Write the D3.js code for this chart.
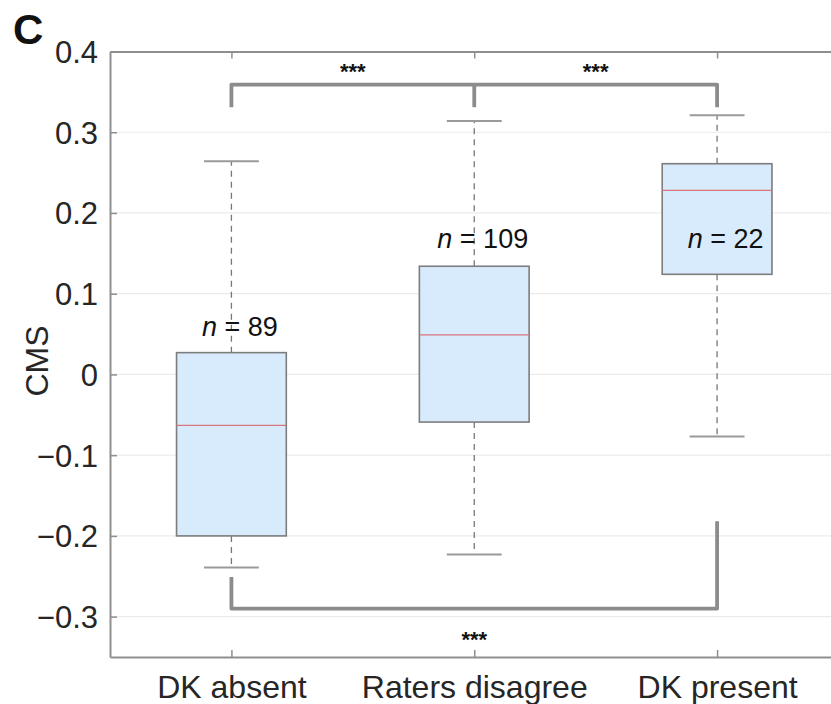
<!DOCTYPE html>
<html>
<head>
<meta charset="utf-8">
<script src="https://cdn.jsdelivr.net/npm/d3@7"></script>
<style>
  body { margin: 0; background: #fff; }
  svg { display: block; font-family: "Liberation Sans", Arial, Helvetica, sans-serif; }
</style>
</head>
<body>
<svg id="chart" width="831" height="704"></svg>
<script>
// data
var categories = ['DK absent', 'Raters disagree', 'DK present'];
var whiskerLow = [-0.239, -0.223, -0.077];
var q1 = [-0.200, -0.059, 0.124];
var medians = [-0.063, 0.049, 0.228];
var q3 = [0.027, 0.134, 0.261];
var whiskerHigh = [0.264, 0.314, 0.321];
var counts = [89, 109, 22];
var countLabelY = [0.047, 0.157, 0.157];
var yTicks = [-0.3, -0.2, -0.1, 0, 0.1, 0.2, 0.3, 0.4];

// significance brackets
var topLegs = [1, 2, 3];
var topBarY = 0.359;
var topLegEnd = 0.331;
var bottomLegs = [1, 3];
var bottomBarY = -0.290;
var bottomLegEnd = [-0.251, -0.182];
var starX = [1.5, 2.5, 2];
var starY = [0.380, 0.380, -0.324];

var svg = d3.select('#chart');
// note: "top" is taken by window.top, so use plot* names
var plotLeft = 110, plotRight = 838.5, plotTop = 51.5, plotBottom = 657;

var x = d3.scaleLinear().domain([0.5, 3.5]).range([plotLeft, plotRight]);
var y = d3.scaleLinear().domain([-0.35, 0.4]).range([plotBottom, plotTop]);

var boxHalf = 0.226, capHalf = 0.113;
var axisColor = '#8f8f8f';
var textColor = '#262626';

// grid
svg.append('g').selectAll('line')
    .data(yTicks)
    .enter()
    .append('line')
    .attr('x1', plotLeft).attr('x2', plotRight)
    .attr('y1', function (d) { return y(d); })
    .attr('y2', function (d) { return y(d); })
    .attr('stroke', '#ebebeb')
    .attr('stroke-width', 1.2);

// axes
var fmt = function (d) { return d === 0 ? '0' : d3.format('.1f')(d); };

var yAxis = svg.append('g')
    .attr('transform', 'translate(' + plotLeft + ',0)')
    .call(d3.axisLeft(y).tickValues(yTicks).tickSize(-7).tickSizeOuter(0).tickPadding(12).tickFormat(fmt));

var xAxis = svg.append('g')
    .attr('transform', 'translate(0,' + plotBottom + ')')
    .call(d3.axisBottom(x).tickValues([1, 2, 3]).tickSize(-7).tickSizeOuter(0).tickPadding(18)
        .tickFormat(function (d) { return categories[d - 1]; }));

var topAxis = svg.append('g')
    .attr('transform', 'translate(0,' + plotTop + ')')
    .call(d3.axisTop(x).tickValues([1, 2, 3]).tickSize(-7).tickSizeOuter(0).tickFormat(''));

[yAxis, xAxis, topAxis].forEach(function (g) {
    g.select('.domain').attr('stroke', axisColor).attr('stroke-width', 2);
    g.selectAll('.tick line').attr('stroke', axisColor).attr('stroke-width', 1.5);
    g.selectAll('.tick text').attr('fill', textColor).attr('font-size', 31)
        .attr('font-family', '"Liberation Sans", Arial, sans-serif');
});
yAxis.selectAll('.tick text').attr('dy', '0.35em');
xAxis.selectAll('.tick text').attr('dy', '0.71em').attr('font-size', 32);

// y label
svg.append('text')
    .attr('transform', 'translate(48,361) rotate(-90)')
    .attr('text-anchor', 'middle')
    .attr('font-size', 32)
    .attr('fill', textColor)
    .text('CMS');

// panel letter
svg.append('text')
    .attr('x', 13).attr('y', 44)
    .attr('font-size', 42)
    .attr('font-weight', 'bold')
    .attr('fill', '#111')
    .text('C');

// boxes
var boxes = svg.append('g').selectAll('g')
    .data(categories)
    .enter()
    .append('g');

boxes.append('line')
    .attr('x1', function (d, i) { return x(i + 1); })
    .attr('x2', function (d, i) { return x(i + 1); })
    .attr('y1', function (d, i) { return y(q3[i]); })
    .attr('y2', function (d, i) { return y(whiskerHigh[i]); })
    .attr('stroke', '#777').attr('stroke-width', 1.3).attr('stroke-dasharray', '6,5');

boxes.append('line')
    .attr('x1', function (d, i) { return x(i + 1); })
    .attr('x2', function (d, i) { return x(i + 1); })
    .attr('y1', function (d, i) { return y(q1[i]); })
    .attr('y2', function (d, i) { return y(whiskerLow[i]); })
    .attr('stroke', '#777').attr('stroke-width', 1.3).attr('stroke-dasharray', '6,5');

[whiskerHigh, whiskerLow].forEach(function (arr) {
    boxes.append('line')
        .attr('x1', function (d, i) { return x(i + 1 - capHalf); })
        .attr('x2', function (d, i) { return x(i + 1 + capHalf); })
        .attr('y1', function (d, i) { return y(arr[i]); })
        .attr('y2', function (d, i) { return y(arr[i]); })
        .attr('stroke', '#9a9a9a').attr('stroke-width', 2);
});

boxes.append('rect')
    .attr('x', function (d, i) { return x(i + 1 - boxHalf); })
    .attr('width', function (d, i) { return x(i + 1 + boxHalf) - x(i + 1 - boxHalf); })
    .attr('y', function (d, i) { return y(q3[i]); })
    .attr('height', function (d, i) { return y(q1[i]) - y(q3[i]); })
    .attr('fill', '#d8ebfc')
    .attr('stroke', '#7d7d7d')
    .attr('stroke-width', 1.6);

boxes.append('line')
    .attr('x1', function (d, i) { return x(i + 1 - boxHalf); })
    .attr('x2', function (d, i) { return x(i + 1 + boxHalf); })
    .attr('y1', function (d, i) { return y(medians[i]); })
    .attr('y2', function (d, i) { return y(medians[i]); })
    .attr('stroke', '#d9737f').attr('stroke-width', 1.3);

// count labels, on top of the boxes
var labels = svg.append('g').selectAll('text')
    .data(counts)
    .enter()
    .append('text')
    .attr('x', function (d, i) { return x(i + 1.035); })
    .attr('y', function (d, i) { return y(countLabelY[i]); })
    .attr('text-anchor', 'middle')
    .attr('font-size', 27)
    .attr('fill', '#111');
labels.append('tspan').attr('font-style', 'italic').text('n');
labels.append('tspan').text(function (d) { return ' = ' + d; });

// brackets
var line = d3.line().x(function (d) { return x(d[0]); }).y(function (d) { return y(d[1]); });
var bracketStyle = function (p) {
    p.attr('fill', 'none').attr('stroke', '#8c8c8c').attr('stroke-width', 3.8)
        .attr('stroke-linejoin', 'round');
};

svg.append('path')
    .attr('d', line([[topLegs[0], topLegEnd], [topLegs[0], topBarY], [topLegs[2], topBarY], [topLegs[2], topLegEnd]]))
    .call(bracketStyle);
svg.append('path')
    .attr('d', line([[topLegs[1], topBarY], [topLegs[1], topLegEnd]]))
    .call(bracketStyle);
svg.append('path')
    .attr('d', line([[bottomLegs[0], bottomLegEnd[0]], [bottomLegs[0], bottomBarY], [bottomLegs[1], bottomBarY], [bottomLegs[1], bottomLegEnd[1]]]))
    .call(bracketStyle);

// stars
svg.append('g').selectAll('text')
    .data(starX)
    .enter()
    .append('text')
    .attr('x', function (d) { return x(d); })
    .attr('y', function (d, i) { return y(starY[i]) + 11; })
    .attr('text-anchor', 'middle')
    .attr('font-size', 22)
    .attr('font-weight', 'bold')
    .attr('fill', '#111')
    .text('***');
</script>
</body>
</html>
